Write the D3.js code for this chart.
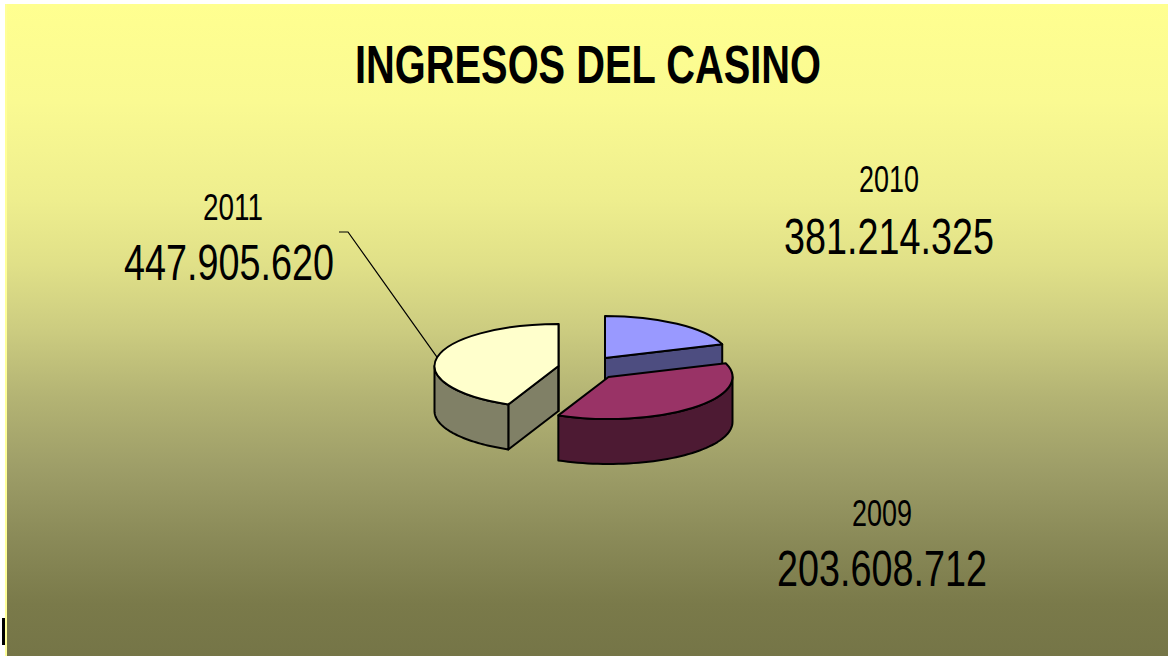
<!DOCTYPE html>
<html><head><meta charset="utf-8">
<script src="https://cdn.jsdelivr.net/npm/d3@7/dist/d3.min.js"></script>
<style>html,body{margin:0;padding:0;background:#fff}svg{display:block}text{font-family:"Liberation Sans",Arial,sans-serif;fill:#000}</style>
</head><body><svg id="c" width="1168" height="656"></svg>
<script>
const title = "INGRESOS DEL CASINO";
const sliceValues = [203608712, 381214325, 447905620];
const topColors = ["#9999FF","#993366","#FFFFCC"];
const sideColors = ["#4D4D80","#4D1A33","#808066"];
const labelYears = ["2010","2009","2011"];
const labelValues = ["381.214.325","203.608.712","447.905.620"];
const gradOffsets = [0,0.15,0.3,0.4,0.5,0.6,0.71,0.82,0.92,1];
const gradColors = ["#FFFF90","#FAFA92","#EEEE8E","#E0E088","#CCCC80","#B4B474","#9E9E68","#8A8A58","#7A7A4A","#757547"];

const W=1168,H=656,rx=124,ry=42,depth=45;
const centers=[[605,358],[608.5,377],[558.5,366]];
const labelPos=[[889,192,254,60,210],[882,526,586,60,210],[233,220,280,60,210]];

const svg=d3.select("#c");
const defs=svg.append("defs");
const g=defs.append("linearGradient").attr("id","bg").attr("x1",0).attr("x2",0).attr("y1",0).attr("y2",1);
gradOffsets.forEach((o,i)=>g.append("stop").attr("offset",o).attr("stop-color",gradColors[i]));
svg.append("rect").attr("x",6).attr("y",4).attr("width",W-6).attr("height",H-4).attr("fill","url(#bg)");
svg.append("rect").attr("x",5).attr("y",4).attr("width",2).attr("height",H-4).attr("fill","#FFFF99");
svg.append("rect").attr("x",2).attr("y",618).attr("width",3).attr("height",27).attr("fill","#000");

svg.append("text").attr("x",588).attr("y",83).attr("text-anchor","middle")
  .attr("font-size",53).attr("font-weight","bold").attr("textLength",466).attr("lengthAdjust","spacingAndGlyphs").text(title);

const pie=d3.pie().sort(null).startAngle(0).endAngle(2*Math.PI)(sliceValues);
const arc=d3.arc().innerRadius(0).outerRadius(rx);
const px=a=>Math.sin(a)*rx, py=a=>-Math.cos(a)*ry;
const area=d3.area().x(a=>px(a)).y0(a=>py(a)).y1(a=>py(a)+depth);
const order=[2,0,1];
const sw=2;
order.forEach(i=>{
  const s=pie[i],[cx,cy]=centers[i];
  const gr=svg.append("g").attr("transform",`translate(${cx},${cy})`);
  const face=a=>[[0,0],[px(a),py(a)],[px(a),py(a)+depth],[0,depth]];
  [s.startAngle,s.endAngle].forEach(a=>{
    const visible=(a===s.endAngle)?(a<Math.PI||a>=2*Math.PI-1e-6):(a>Math.PI);
    if(visible)
      gr.append("path").attr("d",d3.line()(face(a))+"Z").attr("fill",sideColors[i]).attr("stroke","#000").attr("stroke-width",sw).attr("stroke-linejoin","round");
  });
  const a0=Math.max(s.startAngle,Math.PI/2),a1=Math.min(s.endAngle,3*Math.PI/2);
  if(a1>a0){
    const n=48,ang=d3.range(n+1).map(k=>a0+(a1-a0)*k/n);
    gr.append("path").attr("d",area(ang)).attr("fill",sideColors[i]).attr("stroke","#000").attr("stroke-width",sw).attr("stroke-linejoin","round");
  }
  gr.append("path").attr("d",arc(s)).attr("transform",`scale(1,${ry/rx})`)
    .attr("fill",topColors[i]).attr("stroke","#000").attr("stroke-width",sw).attr("stroke-linejoin","round")
    .style("vector-effect","non-scaling-stroke");
});

const last=pie[2],mid=(last.startAngle+last.endAngle)/2;
svg.append("path").attr("fill","none").attr("stroke","#000").attr("stroke-width",1.2)
  .attr("d",d3.line()([[339,232],[348,232],[centers[2][0]+px(mid),centers[2][1]+py(mid)]]));

labelYears.forEach((y,i)=>{
  const [x,yb,vb,yw,vw]=labelPos[i];
  svg.append("text").attr("x",x).attr("y",yb).attr("text-anchor","middle").attr("font-size",37).attr("textLength",yw).attr("lengthAdjust","spacingAndGlyphs").text(y);
  svg.append("text").attr("x",x-(i==2?4:0)).attr("y",vb).attr("text-anchor","middle").attr("font-size",50).attr("textLength",vw).attr("lengthAdjust","spacingAndGlyphs").text(labelValues[i]);
});
</script></body></html>
